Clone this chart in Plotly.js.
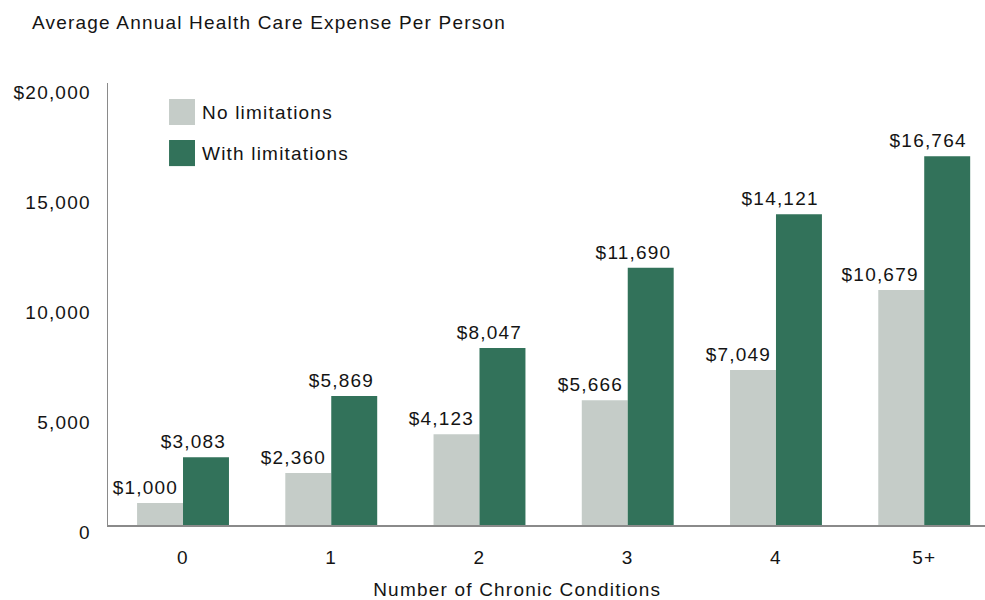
<!DOCTYPE html>
<html>
<head>
<meta charset="utf-8">
<script src="https://cdn.plot.ly/plotly-3.0.1.min.js"></script>
<style>
  html, body { margin: 0; padding: 0; background: #fff; }
  #chart { width: 985px; height: 600px; }
  .main-svg text { letter-spacing: 1.2px; }
</style>
</head>
<body>
<div id="chart"></div>
<script>
const categories = ["0", "1", "2", "3", "4", "5+"];
const noLimitations = [1000, 2360, 4123, 5666, 7049, 10679];
const withLimitations = [3083, 5869, 8047, 11690, 14121, 16764];
const seriesNames = ["No limitations", "With limitations"];
const yTickVals = [0, 5000, 10000, 15000, 20000];
const yTickText = ["0", "5,000", "10,000", "15,000", "$20,000"];

const FONT = "'Liberation Sans', Arial, Helvetica, sans-serif";
const TXT = "#141414";
const LIGHT = "#c5ccc8";
const GREEN = "#32725a";
const bargap = 0.38;
const barW = (1 - bargap) / 2;

function fmt(v) { return "$" + v.toLocaleString("en-US"); }

const traces = [
  { type: "bar", name: seriesNames[0], x: categories, y: noLimitations,
    marker: { color: LIGHT }, hoverinfo: "skip", showlegend: false },
  { type: "bar", name: seriesNames[1], x: categories, y: withLimitations,
    marker: { color: GREEN }, hoverinfo: "skip", showlegend: false }
];

const annotations = [];
categories.forEach((c, i) => {
  annotations.push({ x: i, y: noLimitations[i], xref: "x", yref: "y",
    text: fmt(noLimitations[i]), showarrow: false, xanchor: "right", yanchor: "bottom", align: "right",
    xshift: -3, yshift: 3, font: { family: FONT, size: 19, color: TXT } });
  annotations.push({ x: i + barW, y: withLimitations[i], xref: "x", yref: "y",
    text: fmt(withLimitations[i]), showarrow: false, xanchor: "right", yanchor: "bottom", align: "right",
    xshift: -1, yshift: 3, font: { family: FONT, size: 19, color: TXT } });
});
// legend labels
annotations.push({ xref: "paper", yref: "paper", x: 0.1049, y: 0.934, xanchor: "left", yanchor: "middle", align: "left",
  text: seriesNames[0], showarrow: false, font: { family: FONT, size: 19, color: TXT } });
annotations.push({ xref: "paper", yref: "paper", x: 0.1049, y: 0.8416, xanchor: "left", yanchor: "middle", align: "left",
  text: seriesNames[1], showarrow: false, font: { family: FONT, size: 19, color: TXT } });
// x axis title
annotations.push({ xref: "paper", yref: "paper", x: 0.4675, y: -0.147, xanchor: "center", yanchor: "middle",
  text: "Number of Chronic Conditions", showarrow: false, font: { family: FONT, size: 19, color: TXT } });

const shapes = [
  { type: "rect", xref: "paper", yref: "paper", x0: 0.0696, x1: 0.0992, y0: 0.905, y1: 0.9638,
    fillcolor: LIGHT, line: { width: 0 } },
  { type: "rect", xref: "paper", yref: "paper", x0: 0.0696, x1: 0.0992, y0: 0.812, y1: 0.871,
    fillcolor: GREEN, line: { width: 0 } }
];

const layout = {
  width: 985, height: 600,
  margin: { l: 108, r: 0, t: 83, b: 75, pad: 0 },
  paper_bgcolor: "#ffffff", plot_bgcolor: "#ffffff",
  font: { family: FONT, size: 19, color: TXT },
  title: { text: "Average Annual Health Care Expense Per Person",
    x: 0.0325, xref: "container", xanchor: "left", y: 0.963, yref: "container", yanchor: "middle",
    font: { family: FONT, size: 19, color: TXT } },
  barmode: "group", bargap: bargap, bargroupgap: 0,
  showlegend: false,
  xaxis: { type: "category", range: [-0.506, 5.41], showgrid: false, zeroline: false,
    showline: true, linecolor: "#8a8a8a", linewidth: 1.5, ticks: "", ticklabelstandoff: 15,
    tickfont: { family: FONT, size: 19, color: TXT }, fixedrange: true },
  yaxis: { range: [0, 20090], tickvals: yTickVals, ticktext: yTickText, showgrid: false,
    zeroline: false, showline: true, linecolor: "#8a8a8a", linewidth: 1.5, ticks: "",
    ticklabelstandoff: 12, ticklabelshift: 7,
    tickfont: { family: FONT, size: 19, color: TXT }, fixedrange: true },
  annotations: annotations,
  shapes: shapes
};

Plotly.newPlot("chart", traces, layout, { displayModeBar: false, staticPlot: true });
</script>
</body>
</html>
